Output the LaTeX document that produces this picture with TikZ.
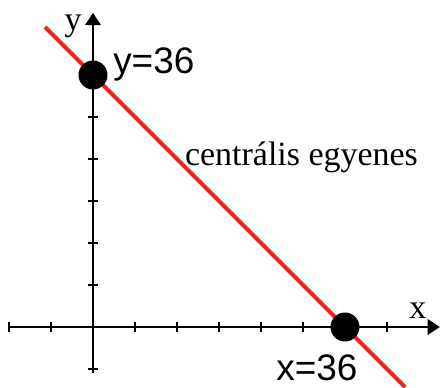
\documentclass[tikz,border=0pt]{standalone}
\usepackage{fontspec}
\setmainfont{Liberation Serif}
\newfontfamily\arialf{Liberation Sans}
\usetikzlibrary{arrows.meta}
\definecolor{linered}{RGB}{232,40,34}
\tikzset{
  axis/.style={line width=1.8pt,-{Triangle[length=0.29cm,width=0.36cm]}},
  tickmark/.style={line width=0.9pt},
  dotnode/.style={circle,fill=black,inner sep=0pt,minimum size=0.69cm},
  sanslabel/.style={font=\arialf\fontsize{25}{25}\selectfont,inner sep=0pt},
  serlabel/.style={font=\fontsize{23}{23}\selectfont,inner sep=0pt},
  redline/.style={linered,line width=2.8pt}
}
\begin{document}
\begin{tikzpicture}
\useasboundingbox (-2.214,-1.452) rectangle (8.286,7.786);
\coordinate (xl) at (-2.02,0);
\coordinate (xr) at (8.26,0);
\coordinate (yb) at (0,-1.1);
\coordinate (yt) at (0,7.48);
\draw[axis] (xl) -- (xr);
\draw[axis] (yb) -- (yt);
\foreach \i in {-2,-1,1,2,3,4,5,7}
  \draw[tickmark] (\i,-0.11) -- (\i,0.11);
\foreach \j in {-1,1,2,3,4,5}
  \draw[tickmark] (-0.11,\j) -- (0.11,\j);
\coordinate (ra) at (-1.14,7.14);
\coordinate (rb) at (7.43,-1.43);
\draw[redline] (ra) -- (rb);
\node[dotnode] (dy) at (0,6) {};
\node[dotnode] (dx) at (6,0) {};
\node[sanslabel,anchor=base west] (ly) at (0.476,6.024) {y=36};
\node[sanslabel,anchor=base] (lx) at (5.333,-1.262) {x=36};
\node[serlabel,anchor=base] (lc) at (4.964,3.857) {centrális egyenes};
\node[serlabel,anchor=base] (ay) at (-0.476,7.071) {y};
\node[serlabel,anchor=base] (ax) at (7.738,0.214) {x};
\end{tikzpicture}
\end{document}
